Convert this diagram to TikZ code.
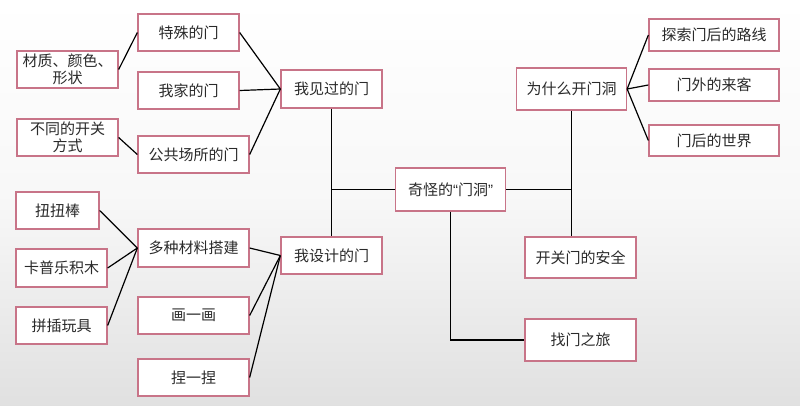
\documentclass[tikz,border=0pt]{standalone}
\usepackage{fontspec}
\newfontfamily\cjk{Noto Sans CJK SC}
\newfontfamily\latq{Liberation Sans}
\definecolor{boxline}{HTML}{C87488}
\definecolor{txt}{HTML}{2A2A2A}
\begin{document}
\begin{tikzpicture}[x=1pt,y=-1pt,
  box/.style={draw=boxline,line width=1.3pt,fill=white,inner sep=0pt,
    font=\cjk\fontsize{15}{17}\selectfont,text=txt,align=center},
  link/.style={draw=black,line width=1.2pt}]
\useasboundingbox (0,0) rectangle (800,405);
\shade[top color=white,bottom color=black!12,middle color=black!3] (0,0) rectangle (800,405);
% left branch: seen doors
\node[box,minimum width=101pt,minimum height=37pt] (s1) at (188.5,32.5) {特殊的门};
\node[box,minimum width=101pt,minimum height=37pt] (m1) at (67.5,69.5) {材质、颜色、\\形状};
\node[box,minimum width=101pt,minimum height=37pt] (s2) at (188.5,90.5) {我家的门};
\node[box,minimum width=101pt,minimum height=37pt] (m2) at (67.5,137.5) {不同的开关\\方式};
\node[box,minimum width=111pt,minimum height=37pt] (s3) at (193.5,154.5) {公共场所的门};
\node[box,minimum width=101pt,minimum height=38pt] (A) at (331.5,89) {我见过的门};
% left branch: designed doors
\node[box,minimum width=83pt,minimum height=37pt] (t1) at (57.5,210.5) {扭扭棒};
\node[box,minimum width=91pt,minimum height=38pt] (t2) at (61.5,268) {卡普乐积木};
\node[box,minimum width=91pt,minimum height=37pt] (t3) at (61.5,325.5) {拼插玩具};
\node[box,minimum width=111pt,minimum height=38pt] (d1) at (193.5,248) {多种材料搭建};
\node[box,minimum width=111pt,minimum height=37pt] (d2) at (193.5,315.5) {画一画};
\node[box,minimum width=111pt,minimum height=37pt] (d3) at (193.5,377.5) {捏一捏};
\node[box,minimum width=101pt,minimum height=37pt] (B) at (331.5,255.5) {我设计的门};
% root
\node[box,minimum width=110pt,minimum height=43pt] (R) at (450.5,189.5) {奇怪的{\latq “}门洞{\latq ”}};
% right branch
\node[box,minimum width=110pt,minimum height=42pt] (C) at (571.5,89) {为什么开门洞};
\node[box,minimum width=130pt,minimum height=32pt] (c1) at (714,35) {探索门后的路线};
\node[box,minimum width=130pt,minimum height=32pt] (c2) at (714,85) {门外的来客};
\node[box,minimum width=130pt,minimum height=31pt] (c3) at (714,140.5) {门后的世界};
\node[box,minimum width=111pt,minimum height=41pt] (D) at (580.5,257.5) {开关门的安全};
\node[box,minimum width=111pt,minimum height=42pt] (E) at (580.5,340) {找门之旅};
% connectors
\draw[link] (m1.east) -- (s1.west);
\draw[link] (m2.east) -- (s3.west);
\draw[link] (s1.east) -- (A.west);
\draw[link] (s2.east) -- (A.west);
\draw[link] (s3.east) -- (A.west);
\draw[link] (t1.east) -- (d1.west);
\draw[link] (t2.east) -- (d1.west);
\draw[link] (t3.east) -- (d1.west);
\draw[link] (d1.east) -- (B.west);
\draw[link] (d2.east) -- (B.west);
\draw[link] (d3.east) -- (B.west);
\draw[link] (A.south) -- (B.north);
\draw[link] (R.west) -- (A.south |- R.west);
\draw[link] (R.east) -- (C.south |- R.east);
\draw[link] (C.south) -- (C.south |- D.north);
\draw[link] (R.south) -- (R.south |- E.west) -- (E.west);
\draw[link] (C.east) -- (c1.west);
\draw[link] (C.east) -- (c2.west);
\draw[link] (C.east) -- (c3.west);
\end{tikzpicture}
\end{document}
